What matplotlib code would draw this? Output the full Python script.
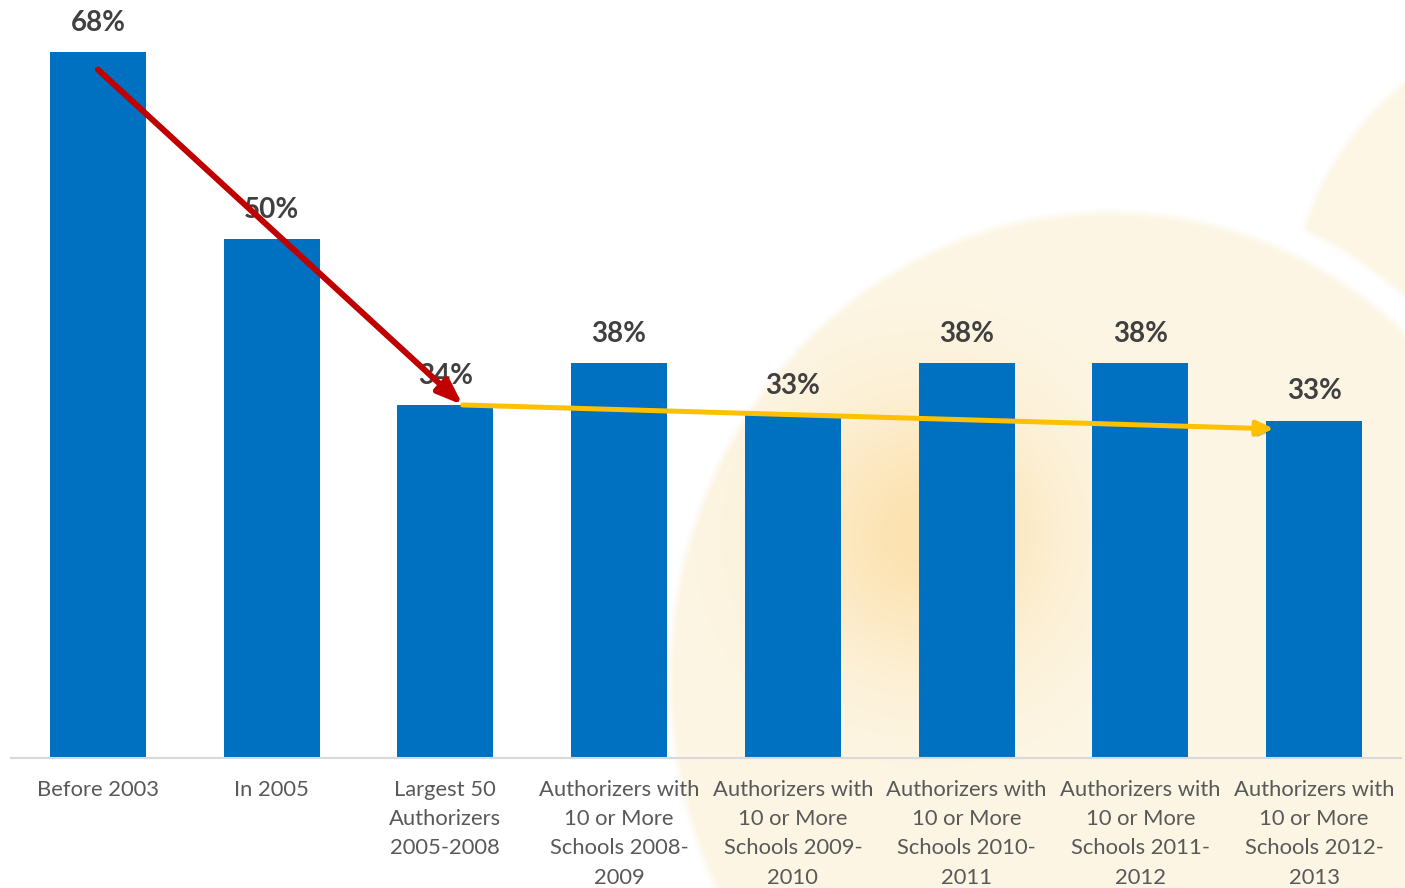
import numpy as np
import matplotlib
matplotlib.use("Agg")
import matplotlib.pyplot as plt
from matplotlib import patheffects as pe

# ---- data ----
categories = [
    "Before 2003",
    "In 2005",
    "Largest 50\nAuthorizers\n2005-2008",
    "Authorizers with\n10 or More\nSchools 2008-\n2009",
    "Authorizers with\n10 or More\nSchools 2009-\n2010",
    "Authorizers with\n10 or More\nSchools 2010-\n2011",
    "Authorizers with\n10 or More\nSchools 2011-\n2012",
    "Authorizers with\n10 or More\nSchools 2012-\n2013",
]
values = [68, 50, 34, 38, 33, 38, 38, 32.5]
value_labels = ["68%", "50%", "34%", "38%", "33%", "38%", "38%", "33%"]
red_arrow = [(0.0, 66.3), (2.1, 34.0)]
yellow_arrow = [(2.1, 34.0), (6.77, 31.7)]

W, H = 1405, 888
fig = plt.figure(figsize=(W / 100, H / 100), dpi=100)

# ---- decorative background ----
yy, xx = np.mgrid[0:H, 0:W] + 0.5
def soft(d, w=8.0):
    return np.clip(0.5 - d / w, 0, 1)[..., None]
white = np.array([1.0, 1.0, 1.0])
beige = np.array([253, 246, 229]) / 255
orange = np.array([252, 226, 176]) / 255
img = np.ones((H, W, 3))
c2 = soft(np.hypot(xx - 1590, yy - 320) - 300)
img = img * (1 - c2) + beige * c2
ea, eb = 440.0, 467.0
r1 = np.sqrt(((xx - 1110) / ea) ** 2 + ((yy - 680) / eb) ** 2)
ring = soft((r1 - 1) * 453 - 27)
img = img * (1 - ring) + white * ring
c1 = soft((r1 - 1) * 453)
g = np.exp(-((xx - 925) ** 2 + (yy - 535) ** 2) / (2 * 95 ** 2))[..., None]
fill = beige * (1 - g) + orange * g
img = img * (1 - c1) + fill * c1
bg = fig.add_axes([0, 0, 1, 1], zorder=0)
bg.imshow(img, extent=[0, W, H, 0], aspect="auto", interpolation="bilinear")
bg.axis("off")

# ---- main chart ----
ax = fig.add_axes([11 / W, 130 / H, 1390 / W, 758 / H], zorder=1)
ax.patch.set_alpha(0)
x = np.arange(len(categories))
ax.bar(x, values, width=0.553, color="#0070C0", zorder=2)
ax.set_xlim(-0.5, len(categories) - 0.5)
ax.set_ylim(0, 73)

for i, (v, lbl) in enumerate(zip(values, value_labels)):
    ax.annotate(lbl, (i, v), xytext=(0, 21), textcoords="offset points",
                ha="center", va="center", fontsize=20, fontweight="bold",
                color="#404040", family="Lato", zorder=3)

ax.set_xticks(x)
ax.set_xticklabels(categories, fontsize=15.8, color="#595959", family="Lato",
                   linespacing=1.57, va="top")
ax.tick_params(axis="x", length=0, pad=16)
ax.set_yticks([])
for s in ["top", "left", "right"]:
    ax.spines[s].set_visible(False)
ax.spines["bottom"].set_color("#D9D9D9")
ax.spines["bottom"].set_linewidth(1.5)

shadow = [pe.withSimplePatchShadow(offset=(2, -2), alpha=0.35)]
ax.annotate("", xy=red_arrow[1], xytext=red_arrow[0],
            arrowprops=dict(arrowstyle="-|>,head_length=0.75,head_width=0.28",
                            mutation_scale=20, color="#C00000", lw=4.3,
                            shrinkA=0, shrinkB=0, path_effects=shadow),
            zorder=4)
ax.annotate("", xy=yellow_arrow[1], xytext=yellow_arrow[0],
            arrowprops=dict(arrowstyle="-|>,head_length=0.5,head_width=0.22",
                            mutation_scale=20, color="#FFC000", lw=3.6,
                            shrinkA=0, shrinkB=0, path_effects=shadow),
            zorder=4)

fig.savefig("out.png", dpi=100)
